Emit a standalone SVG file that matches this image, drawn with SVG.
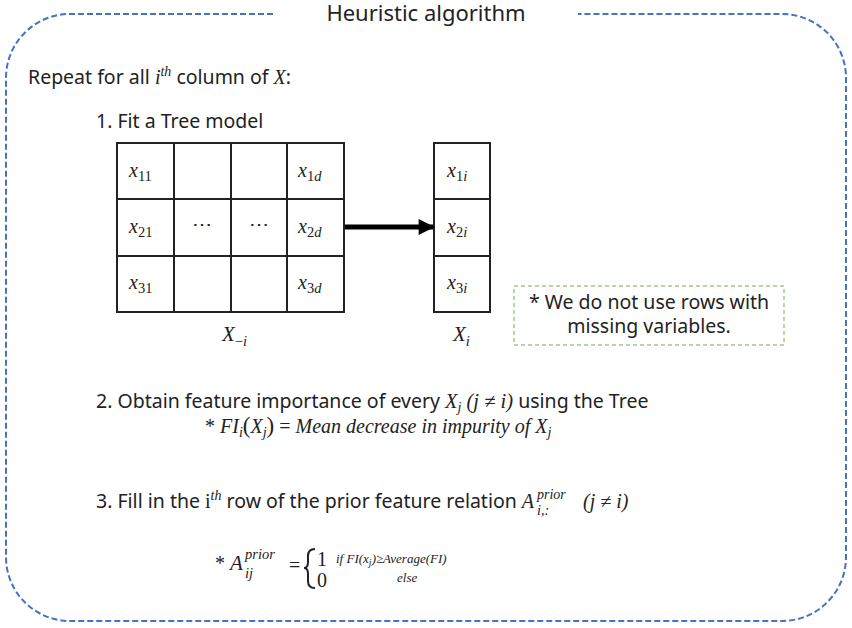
<svg xmlns="http://www.w3.org/2000/svg" width="852" height="628" viewBox="0 0 852 628">
<style>
.t{font-family:"Noto Sans","Liberation Sans",sans-serif;font-size:19.5px;fill:#222}
.m{font-family:"Liberation Serif","DejaVu Serif",serif;font-style:italic}
.r{font-family:"Liberation Serif","DejaVu Serif",serif;font-style:normal}
.mt{font-family:"Liberation Serif","DejaVu Serif",serif;font-size:20px;fill:#222}
.cell{fill:#fff;stroke:#222;stroke-width:2}
.cx{font-family:"Liberation Serif",serif;font-size:20px;fill:#222}
.sub{font-size:14.5px;font-style:normal}
.si{font-size:14.5px;font-style:italic}
.s{font-size:14px}
</style>
<defs>
<marker id="ah" viewBox="0 0 10 10" refX="9" refY="5" markerWidth="3.4" markerHeight="3.2" orient="auto" markerUnits="strokeWidth">
<path d="M0,0 L10,5 L0,10 z" fill="#000"/>
</marker>
</defs>
<g id="frame">
<path d="M273,14 H70 A64,64 0 0 0 6,78 V557 A64,64 0 0 0 70,621 H782 A64,64 0 0 0 846,557 V78 A64,64 0 0 0 782,14 H578" fill="none" stroke="#4472C4" stroke-width="2" stroke-dasharray="6,3"/>
<text x="426" y="21" text-anchor="middle" class="t" style="font-size:22px">Heuristic algorithm</text>
</g>
<g id="intro">
<text x="28" y="84" class="t">Repeat for all <tspan class="m" style="font-size:20px">i</tspan><tspan class="m s" dy="-8">th</tspan><tspan dy="8"> column of </tspan><tspan class="m" style="font-size:20px">X</tspan>:</text>
<text x="96" y="128" class="t">1. Fit a Tree model</text>
</g>
<g id="matrix">
<rect class="cell" x="117" y="143" width="57" height="56"/>
<rect class="cell" x="174" y="143" width="57" height="56"/>
<rect class="cell" x="231" y="143" width="56" height="56"/>
<rect class="cell" x="287" y="143" width="57" height="56"/>
<rect class="cell" x="117" y="199" width="57" height="57"/>
<rect class="cell" x="174" y="199" width="57" height="57"/>
<rect class="cell" x="231" y="199" width="56" height="57"/>
<rect class="cell" x="287" y="199" width="57" height="57"/>
<rect class="cell" x="117" y="256" width="57" height="56"/>
<rect class="cell" x="174" y="256" width="57" height="56"/>
<rect class="cell" x="231" y="256" width="56" height="56"/>
<rect class="cell" x="287" y="256" width="57" height="56"/>
<text x="129" y="177" class="cx"><tspan class="m">x</tspan><tspan class="sub" dy="4">11</tspan></text>
<text x="298" y="177" class="cx"><tspan class="m">x</tspan><tspan class="sub" dy="4">1</tspan><tspan class="si">d</tspan></text>
<text x="129" y="233" class="cx"><tspan class="m">x</tspan><tspan class="sub" dy="4">21</tspan></text>
<text x="202" y="231" class="cx" text-anchor="middle">⋯</text>
<text x="259" y="231" class="cx" text-anchor="middle">⋯</text>
<text x="298" y="233" class="cx"><tspan class="m">x</tspan><tspan class="sub" dy="4">2</tspan><tspan class="si">d</tspan></text>
<text x="129" y="289" class="cx"><tspan class="m">x</tspan><tspan class="sub" dy="4">31</tspan></text>
<text x="298" y="289" class="cx"><tspan class="m">x</tspan><tspan class="sub" dy="4">3</tspan><tspan class="si">d</tspan></text>
<text x="222" y="341" class="cx" style="font-size:21px"><tspan class="m">X</tspan><tspan class="sub" dy="5">−</tspan><tspan class="si">i</tspan></text>
</g>
<g id="column">
<rect class="cell" x="434" y="143" width="56" height="56"/>
<rect class="cell" x="434" y="199" width="56" height="57"/>
<rect class="cell" x="434" y="256" width="56" height="56"/>
<text x="447" y="177" class="cx"><tspan class="m">x</tspan><tspan class="sub" dy="4">1</tspan><tspan class="si">i</tspan></text>
<text x="447" y="233" class="cx"><tspan class="m">x</tspan><tspan class="sub" dy="4">2</tspan><tspan class="si">i</tspan></text>
<text x="447" y="289" class="cx"><tspan class="m">x</tspan><tspan class="sub" dy="4">3</tspan><tspan class="si">i</tspan></text>
<text x="453" y="341" class="cx" style="font-size:21px"><tspan class="m">X</tspan><tspan class="si" dy="5">i</tspan></text>
</g>
<g id="connectors">
<line x1="345" y1="227" x2="433" y2="227" stroke="#000" stroke-width="5" marker-end="url(#ah)"/>
</g>
<g id="note">
<rect x="514" y="286" width="270" height="59" fill="none" stroke="#70AD47" stroke-width="1" stroke-dasharray="4,3"/>
<text x="649" y="309" text-anchor="middle" class="t">* We do not use rows with</text>
<text x="649" y="333" text-anchor="middle" class="t">missing variables.</text>
</g>
<g id="step2">
<text x="96" y="408" class="t">2. Obtain feature importance of every <tspan class="m" style="font-size:20.5px">X</tspan><tspan class="m s" dy="4">j</tspan><tspan class="m" style="font-size:20.5px" dy="-4"> (j ≠ i)</tspan> using the Tree</text>
<text x="205" y="433" class="mt"><tspan class="r">* </tspan><tspan class="m">FI</tspan><tspan class="m s" dy="4">i</tspan><tspan class="r" dy="-4" style="font-size:23px">(</tspan><tspan class="m">X</tspan><tspan class="m s" dy="4">j</tspan><tspan class="r" dy="-4" style="font-size:23px">)</tspan><tspan class="r"> = </tspan><tspan class="m">Mean decrease in impurity of X</tspan><tspan class="m s" dy="4">j</tspan></text>
</g>
<g id="step3">
<text x="96" y="508" class="t">3. Fill in the <tspan class="r" style="font-size:20px">i</tspan><tspan class="m s" dy="-8">th</tspan><tspan dy="8"> row of the prior feature relation </tspan><tspan class="m" style="font-size:20px">A</tspan></text>
<text x="537" y="499" class="m" style="font-size:14px;fill:#222">prior</text>
<text x="537" y="515" class="m" style="font-size:14px;fill:#222">i,:</text>
<text x="583" y="508" class="m" style="font-size:20px;fill:#222">(j ≠ i)</text>
</g>
<g id="formula">
<text x="215" y="570" class="r" style="font-size:20px;fill:#222">* <tspan class="m" style="font-size:21px">A</tspan></text>
<text x="245" y="559" class="m" style="font-size:14.5px;fill:#222">prior</text>
<text x="245" y="578" class="m" style="font-size:14.5px;fill:#222">ij</text>
<text x="289" y="572" class="r" style="font-size:20px;fill:#222">=</text>
<path d="M315,549 Q308,549 308,556 V562 Q308,568 304,568 Q308,568 308,574 V581 Q308,588 315,588" fill="none" stroke="#222" stroke-width="2"/>
<text x="317" y="566" class="r" style="font-size:20px;fill:#222">1</text>
<text x="336" y="563" class="m" style="font-size:13px;fill:#222">if FI(x<tspan dy="3" style="font-size:10px">j</tspan><tspan dy="-3">)≥Average(FI)</tspan></text>
<text x="317" y="587" class="r" style="font-size:20px;fill:#222">0</text>
<text x="397" y="582" class="m" style="font-size:13px;fill:#222">else</text>
</g>
</svg>
